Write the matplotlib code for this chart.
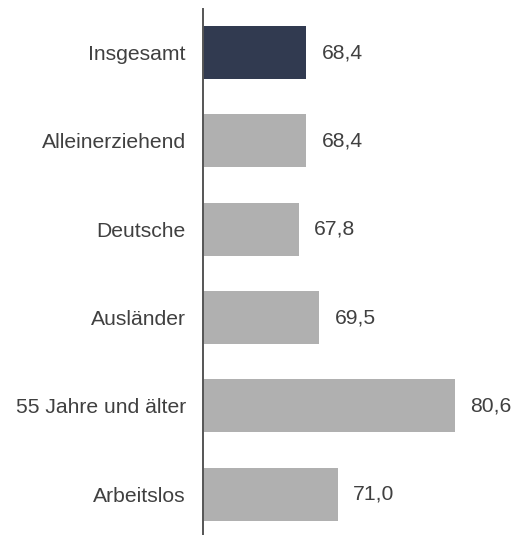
import matplotlib
matplotlib.use("Agg")
import matplotlib.pyplot as plt

categories = ["Insgesamt", "Alleinerziehend", "Deutsche", "Ausländer",
              "55 Jahre und älter", "Arbeitslos"]
values = [68.4, 68.4, 67.8, 69.5, 80.6, 71.0]
labels = ["68,4", "68,4", "67,8", "69,5", "80,6", "71,0"]
colors = ["#313a50", "#b0b0b0", "#b0b0b0", "#b0b0b0", "#b0b0b0", "#b0b0b0"]

plt.rcParams["font.family"] = ["Liberation Sans", "DejaVu Sans"]
text_color = "#404040"

fig = plt.figure(figsize=(5.28, 5.35), dpi=100)
ax = fig.add_axes([0.385, 0.0, 0.6013, 0.9841])

base = 60
ypos = list(range(len(categories)))
ax.barh(ypos, [v - base for v in values], left=base, height=0.6,
        color=colors, zorder=2)

for y, v, lab in zip(ypos, values, labels):
    ax.annotate(lab, (v, y), xytext=(11.2, 0), textcoords="offset points",
                ha="left", va="center", fontsize=15.2, color=text_color)

ax.set_xlim(base, 86)
ax.set_ylim(5.463, -0.5)
ax.set_yticks(ypos)
ax.set_yticklabels(categories, fontsize=15.2, color=text_color)
ax.tick_params(axis="y", length=0, pad=12.5)
ax.set_xticks([])

for side in ["top", "right", "bottom"]:
    ax.spines[side].set_visible(False)
ax.spines["left"].set_color("#555555")
ax.spines["left"].set_linewidth(1.4)
ax.spines["left"].set_zorder(3)

fig.savefig("out.png", dpi=100)
